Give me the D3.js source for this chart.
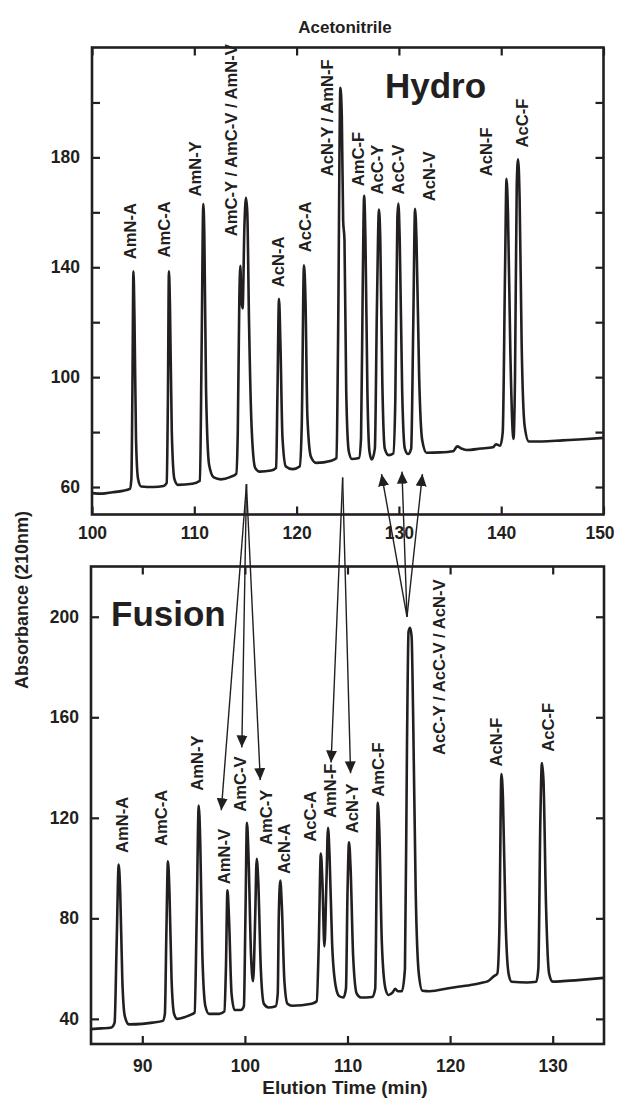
<!DOCTYPE html>
<html>
<head>
<meta charset="utf-8">
<script src="https://cdn.jsdelivr.net/npm/d3@7"></script>
<style>
  body { margin: 0; background: #fff; }
  text { font-family: "Liberation Sans", Arial, Helvetica, sans-serif; font-weight: bold; fill: #231f20; }
</style>
</head>
<body>
<div id="chart"></div>
<script>
// Hydro chromatogram (elution time min, absorbance)
const hydroTrace = [
  [100.0,57.8],[101.0,57.6],[102.0,58.1],[103.0,58.6],[103.7,59.3],[103.85,63],[103.95,95],[104.05,138.5],[104.15,122],[104.3,78],[104.5,63],[104.8,60.2],
  [106.0,60],[107.0,60.4],[107.3,61.5],[107.42,92],[107.52,138.5],[107.62,126],[107.8,80],[108.05,63],[108.4,60.8],
  [109.8,61.2],[110.55,62.3],[110.72,112],[110.88,163],[110.98,152],[111.15,95],[111.45,68],[111.9,63.5],
  [112.6,62.8],[113.5,63.6],[114.1,64.8],[114.25,80],[114.4,128],[114.5,140.5],[114.6,128],[114.72,125],[114.9,155],[115.05,165.3],[115.18,160],[115.35,120],[115.6,82],[115.95,67],[116.4,65.6],
  [117.5,66],[118.0,67],[118.12,92],[118.28,128.5],[118.42,112],[118.62,78],[118.95,67.5],[119.6,66.5],
  [120.3,67.5],[120.5,82],[120.72,140.7],[120.87,128],[121.05,86],[121.4,71],[121.9,68.8],
  [123.4,69.6],[123.9,70.5],[124.05,112],[124.28,205.3],[124.42,195],[124.55,157],[124.68,150],[124.85,95],[125.1,73],[125.4,70.2],
  [126.1,70.6],[126.3,78],[126.47,135],[126.6,166],[126.73,150],[126.92,95],[127.12,73],[127.35,70],
  [127.65,74],[127.85,125],[128.05,161],[128.18,150],[128.38,98],[128.62,74],[129.0,71.6],
  [129.45,72.2],[129.65,92],[129.85,158],[129.95,163.2],[130.08,150],[130.32,95],[130.58,74],[130.9,72],
  [131.2,74],[131.4,118],[131.58,161.3],[131.72,150],[131.98,100],[132.28,77],[132.7,72.5],
  [134.0,72.6],[135.3,73],[135.7,74.8],[136.1,74],[136.6,73.5],[138.0,74],[139.2,74.5],[139.5,75.6],[139.9,75],
  [140.15,80],[140.38,140],[140.52,172.2],[140.66,160],[140.9,108],[141.2,77.5],[141.35,100],[141.52,170],[141.65,179.3],[141.8,165],[142.0,112],[142.3,82],[142.7,76.6],
  [144.0,76.6],[146.0,77],[148.0,77.4],[150.0,77.9]
];

// Fusion chromatogram
const fusionTrace = [
  [85.0,35.9],[86.0,36.2],[87.0,36.6],[87.3,38.5],[87.5,70],[87.7,101.4],[87.85,90],[88.05,56],[88.3,41],[88.7,37.8],
  [90.0,38],[91.0,38.5],[92.0,39.2],[92.2,42],[92.35,75],[92.5,102.7],[92.65,90],[92.85,56],[93.1,42],[93.4,40],
  [94.2,40.8],[94.8,41.8],[95.1,42.5],[95.3,80],[95.5,124.9],[95.65,110],[95.85,66],[96.15,45],[96.5,42],
  [97.5,42],[98.0,43],[98.15,60],[98.3,91.2],[98.45,80],[98.7,50],[99.0,43.5],[99.6,43.5],
  [99.9,45],[100.05,80],[100.2,118],[100.35,105],[100.6,65],[100.8,55],[101.0,80],[101.15,103.7],[101.3,95],[101.55,60],[101.85,46],[102.3,44.5],
  [103.0,45],[103.2,50],[103.3,80],[103.45,95],[103.6,85],[103.85,55],[104.15,46],[104.6,45.2],
  [106.5,46],[107.0,47],[107.2,70],[107.4,105.8],[107.55,95],[107.75,68.8],[107.95,95],[108.1,116],[108.25,105],[108.5,70],[108.85,53],[109.2,49],[109.6,48.5],
  [109.85,52],[110.0,90],[110.15,110.3],[110.3,100],[110.55,65],[110.9,50],[111.3,48.5],
  [112.4,48.7],[112.7,52],[112.85,100],[112.95,126],[113.1,115],[113.35,70],[113.7,52],[114.0,49.5],
  [114.4,50.5],[114.65,52],[114.9,51],[115.3,51],[115.6,60],[115.8,150],[115.95,194],[116.1,195.6],[116.25,192],[116.4,160],[116.65,90],[116.95,58],[117.3,51.2],
  [118.0,51],[120.0,52.3],[122.0,53.5],[123.0,54.3],[123.7,55],[124.2,56.8],[124.6,58],
  [124.8,75],[125.0,137.4],[125.15,128],[125.4,80],[125.7,58],[126.0,54.8],[127.5,54.5],
  [128.4,54.8],[128.6,60],[128.8,120],[128.95,141.8],[129.1,135],[129.35,85],[129.65,58],[130.0,54.8],
  [131.0,55],[133.0,55.6],[135.0,56.3]
];

// peak labels: name, time, absorbance at foot of the label
const hydroLabels = [
  ["AmN-A",103.7,142.9],["AmC-A",107.05,143.6],["AmN-Y",110.1,165.8],
  ["AmC-Y / AmC-V / AmN-V",113.6,151.3],["AcN-A",118.2,132.7],["AcC-A",120.85,145.5],
  ["AcN-Y / AmN-F",122.95,173.1],["AmC-F",126.0,169.5],["AcC-Y",127.85,166.5],
  ["AcC-V",129.95,166.5],["AcN-V",132.9,164],["AcN-F",138.55,173.1],["AcC-F",142.05,183.6]
];
const fusionLabels = [
  ["AmN-A",88.05,106],["AmC-A",91.8,108.8],["AmN-Y",95.3,130.8],["AmN-V",97.95,93.6],
  ["AmC-V",99.5,122.4],["AmC-Y",102.05,109.2],["AcN-A",103.85,97.6],["AcC-A",106.3,110.5],
  ["AmN-F",108.25,119.9],["AcN-Y",110.4,113.9],["AmC-F",112.95,128.4],
  ["AcC-Y / AcC-V / AcN-V",118.9,145],["AcN-F",124.5,140.4],["AcC-F",129.55,146.3]
];

// arrows between panels: [panel, time, absorbance] -> [panel, time, absorbance]
const arrowLinks = [
  [["hydro",115.1,61],["fusion",97.7,123]],
  [["hydro",115.1,61],["fusion",99.7,148]],
  [["hydro",115.1,61],["fusion",101.5,135]],
  [["hydro",124.5,63.5],["fusion",108.4,142]],
  [["hydro",124.5,63.5],["fusion",110.3,137.7]],
  [["fusion",115.8,200],["hydro",128.3,64.7]],
  [["fusion",115.8,200],["hydro",130.3,65.6]],
  [["fusion",115.8,200],["hydro",132.3,64.7]]
];

const hydroXTicks = d3.range(100, 151, 10);
const hydroYTicks = d3.range(60, 220, 20);
const fusionXTicks = d3.range(90, 131, 10);
const fusionYTicks = d3.range(40, 220, 40);

const ink = "#231f20";
const width = 617, height = 1101;

const svg = d3.select("#chart").append("svg")
  .attr("width", width).attr("height", height)
  .attr("viewBox", `0 0 ${width} ${height}`);

svg.append("defs").append("marker")
  .attr("id", "head")
  .attr("viewBox", "0 -6 12 12")
  .attr("refX", 12).attr("refY", 0)
  .attr("markerUnits", "userSpaceOnUse")
  .attr("markerWidth", 12).attr("markerHeight", 12)
  .attr("orient", "auto")
  .append("path").attr("d", "M0,-5.5L12,0L0,5.5Z").attr("fill", ink);

const panels = {
  hydro: {
    x: d3.scaleLinear().domain([100, 150]).range([92, 603.5]),
    y: d3.scaleLinear().domain([50, 220]).range([514.5, 47.5])
  },
  fusion: {
    x: d3.scaleLinear().domain([85, 135]).range([91, 604]),
    y: d3.scaleLinear().domain([30, 220]).range([1044, 566.5])
  }
};

function drawPanel(p, trace, labels, xTicks, yTicks, yFmt, xPad) {
  const [x0, x1] = p.x.range(), [y0, y1] = p.y.range();
  const g = svg.append("g");

  const clipId = "clip" + Math.round(y0);
  g.append("clipPath").attr("id", clipId)
    .append("rect").attr("x", x0).attr("y", y1).attr("width", x1 - x0).attr("height", y0 - y1);

  g.append("path")
    .datum(trace)
    .attr("clip-path", `url(#${clipId})`)
    .attr("fill", "none").attr("stroke", ink).attr("stroke-width", 2.6)
    .attr("stroke-linejoin", "round")
    .attr("d", d3.line().x(d => p.x(d[0])).y(d => p.y(d[1])).curve(d3.curveMonotoneX));

  const axes = [
    [d3.axisBottom(p.x).tickValues(xTicks).tickSize(-8).tickPadding(xPad), `translate(0,${y0})`],
    [d3.axisTop(p.x).tickValues(xTicks).tickSize(-8).tickFormat(""), `translate(0,${y1})`],
    [d3.axisLeft(p.y).tickValues(yTicks).tickSize(-8).tickPadding(12).tickFormat(yFmt), `translate(${x0},0)`],
    [d3.axisRight(p.y).tickValues(yTicks).tickSize(-8).tickFormat(""), `translate(${x1},0)`]
  ];
  axes.forEach(([ax, tr]) => {
    const a = g.append("g").attr("transform", tr).call(ax);
    a.select(".domain").remove();
    a.selectAll("line").attr("stroke", ink).attr("stroke-width", 2.2);
    a.selectAll("text").attr("font-size", 17.5).attr("fill", ink)
      .style("font-family", "'Liberation Sans', Arial, sans-serif").style("font-weight", "bold");
  });

  g.append("rect")
    .attr("x", x0).attr("y", y1).attr("width", x1 - x0).attr("height", y0 - y1)
    .attr("fill", "none").attr("stroke", ink).attr("stroke-width", 2.6);

  g.selectAll("text.peak")
    .data(labels)
    .join("text")
    .attr("class", "peak")
    .attr("font-size", 16.6)
    .attr("transform", d => `translate(${p.x(d[1]) + 6},${p.y(d[2])}) rotate(-90)`)
    .text(d => d[0]);
  return g;
}

const hydroG = drawPanel(panels.hydro, hydroTrace, hydroLabels, hydroXTicks, hydroYTicks,
  d => (d % 40 === 20 ? d : ""), 12);
drawPanel(panels.fusion, fusionTrace, fusionLabels, fusionXTicks, fusionYTicks,
  d => d, 16);

// keep the last top-axis label inside the page
hydroG.selectAll(".tick text").filter(d => d === 150).attr("dx", -4);

// arrows
const pt = ([name, t, a]) => [panels[name].x(t), panels[name].y(a)];
svg.append("g").selectAll("line")
  .data(arrowLinks)
  .join("line")
  .attr("x1", d => pt(d[0])[0]).attr("y1", d => pt(d[0])[1])
  .attr("x2", d => pt(d[1])[0]).attr("y2", d => pt(d[1])[1])
  .attr("stroke", ink).attr("stroke-width", 1.4)
  .attr("marker-end", "url(#head)");

// panel names
svg.append("text").attr("x", 385).attr("y", 98).attr("font-size", 35).text("Hydro");
svg.append("text").attr("x", 111).attr("y", 626).attr("font-size", 35).text("Fusion");

// titles
svg.append("text").attr("x", 345).attr("y", 33).attr("text-anchor", "middle")
  .attr("font-size", 17).text("Acetonitrile");
svg.append("text").attr("x", 345).attr("y", 1094).attr("text-anchor", "middle")
  .attr("font-size", 19).text("Elution Time (min)");
svg.append("text")
  .attr("transform", "translate(28,600) rotate(-90)")
  .attr("text-anchor", "middle")
  .attr("font-size", 18).text("Absorbance (210nm)");
</script>
</body>
</html>
